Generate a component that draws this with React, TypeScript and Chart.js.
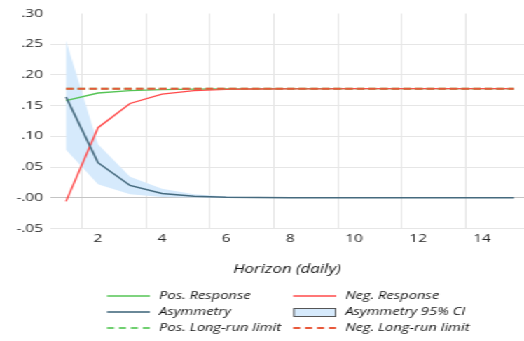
import React, { useEffect, useRef } from 'react';
import { Chart, registerables } from 'chart.js';

Chart.register(...registerables);

// ---- data ----
const horizons = [1, 2, 3, 4, 5, 6, 7, 8, 9, 10, 11, 12, 13, 14, 15];
const posResponse = [0.158, 0.1705, 0.1745, 0.176, 0.1768, 0.1772, 0.1774, 0.1775, 0.1775, 0.1775, 0.1775, 0.1775, 0.1775, 0.1775, 0.1775];
const negResponse = [-0.006, 0.114, 0.1535, 0.1688, 0.1743, 0.1763, 0.177, 0.1773, 0.1774, 0.1775, 0.1775, 0.1775, 0.1775, 0.1775, 0.1775];
const asymmetry = [0.164, 0.057, 0.02, 0.0068, 0.0022, 0.0007, 0.0002, 0.0001, 0, 0, 0, 0, 0, 0, 0];
const ciUpper = [0.256, 0.087, 0.034, 0.0145, 0.0055, 0.002, 0.0008, 0.0003, 0.0001, 0, 0, 0, 0, 0, 0];
const ciLower = [0.078, 0.022, 0.0055, 0.0012, 0.0002, 0, 0, 0, 0, 0, 0, 0, 0, 0, 0];
const posLongRun = 0.1775;
const negLongRun = 0.1775;
const xTickLabels = [2, 4, 6, 8, 10, 12, 14];
const xGridPositions = [1.5, 3.5, 5.5, 7.5, 9.5, 11.5, 13.5];
const yMin = -0.05;
const yMax = 0.3;
const yStep = 0.05;
const xTitle = 'Horizon (daily)';
const legendLabels = [
  'Pos. Response',
  'Neg. Response',
  'Asymmetry',
  'Asymmetry 95% CI',
  'Pos. Long-run limit',
  'Neg. Long-run limit',
];

// ---- styles ----
const STRETCH = 1.4;
const W = Math.round(524 / STRETCH);
const H = 341;
const C_POS = '#55c455';
const C_NEG = '#ff4a4a';
const C_ASYM = '#456a7e';
const C_CI = '#d6eafc';
const C_POS_LR = '#6fcf6f';
const C_NEG_LR = '#e8583a';
const C_TEXT = '#141414';
const FONT = '"Open Sans", "DejaVu Sans", sans-serif';
const DASH = [5.5, 2.8];

const pts = (ys: number[]) => horizons.map((h, i) => ({ x: h, y: ys[i] }));
const flat = (v: number) => horizons.map((h) => ({ x: h, y: v }));

const legendPlugin = {
  id: 'customLegend',
  afterDraw(chart: any) {
    const ctx = chart.ctx as CanvasRenderingContext2D;
    const cols = [
      { s0: 76.4, s1: 107, t: 113.6 },
      { s0: 209.3, s1: 240, t: 246.4 },
    ];
    const rows = [296, 312, 328];
    const styles = [
      { kind: 'line', color: C_POS, dash: [] as number[], w: 1.5 },
      { kind: 'line', color: C_NEG, dash: [], w: 1.5 },
      { kind: 'line', color: C_ASYM, dash: [], w: 1.6 },
      { kind: 'box', color: C_CI, dash: [], w: 1 },
      { kind: 'line', color: C_POS_LR, dash: [5, 3.5], w: 2 },
      { kind: 'line', color: C_NEG_LR, dash: [5, 3.5], w: 2 },
    ];
    ctx.save();
    legendLabels.forEach((label, i) => {
      const col = cols[i % 2];
      const y = rows[Math.floor(i / 2)];
      const st = styles[i];
      if (st.kind === 'line') {
        ctx.beginPath();
        ctx.setLineDash(st.dash);
        ctx.strokeStyle = st.color;
        ctx.lineWidth = st.w;
        ctx.moveTo(col.s0, y);
        ctx.lineTo(col.s1, y);
        ctx.stroke();
        ctx.setLineDash([]);
      } else {
        ctx.fillStyle = st.color;
        ctx.fillRect(col.s0, y - 4, col.s1 - col.s0, 8);
        ctx.strokeStyle = '#555';
        ctx.lineWidth = 1;
        ctx.strokeRect(col.s0 + 0.5, y - 4 + 0.5, col.s1 - col.s0 - 1, 8);
      }
      ctx.fillStyle = C_TEXT;
      ctx.font = `italic 10.5px ${FONT}`;
      ctx.textBaseline = 'middle';
      ctx.textAlign = 'left';
      ctx.fillText(label, col.t, y);
    });
    ctx.restore();
  },
};

export default function App() {
  const ref = useRef<HTMLCanvasElement | null>(null);
  useEffect(() => {
    if (!ref.current) return;
    const chart = new Chart(ref.current, {
      type: 'line',
      data: {
        datasets: [
          { label: legendLabels[5], data: flat(negLongRun), borderColor: C_NEG_LR, borderWidth: 2, borderDash: DASH, pointRadius: 0, fill: false },
          { label: legendLabels[4], data: flat(posLongRun), borderColor: C_POS_LR, borderWidth: 2, borderDash: DASH, pointRadius: 0, fill: false },
          { label: legendLabels[2], data: pts(asymmetry), borderColor: C_ASYM, borderWidth: 1.5, pointRadius: 0, fill: false },
          { label: legendLabels[1], data: pts(negResponse), borderColor: C_NEG, borderWidth: 1.3, pointRadius: 0, fill: false },
          { label: legendLabels[0], data: pts(posResponse), borderColor: C_POS, borderWidth: 1.3, pointRadius: 0, fill: false },
          { label: legendLabels[3], data: pts(ciUpper), borderColor: 'rgba(0,0,0,0)', borderWidth: 0, backgroundColor: C_CI, pointRadius: 0, fill: '+1' },
          { label: 'ci-lower', data: pts(ciLower), borderColor: 'rgba(0,0,0,0)', borderWidth: 0, pointRadius: 0, fill: false },
        ],
      },
      options: {
        animation: false,
        responsive: false,
        devicePixelRatio: 1,
        layout: { padding: { top: 13.5, right: 0, bottom: 60, left: 0 } },
        plugins: { legend: { display: false }, tooltip: { enabled: false } },
        scales: {
          x: {
            type: 'linear',
            min: 0.5,
            max: 15.31,
            afterBuildTicks: (scale: any) => {
              const vals = [...xTickLabels, ...xGridPositions].sort((a, b) => a - b);
              scale.ticks = vals.map((v) => ({ value: v }));
            },
            ticks: {
              autoSkip: false,
              maxRotation: 0,
              padding: 4,
              color: '#262626',
              font: { family: FONT, size: 11 },
              callback: (v: any) => (Number.isInteger(v) ? String(v) : ''),
            },
            grid: {
              drawTicks: false,
              color: (c: any) => (c.tick && !Number.isInteger(c.tick.value) ? '#e6e6e6' : 'rgba(0,0,0,0)'),
            },
            border: { display: false },
            title: {
              display: true,
              text: xTitle,
              color: C_TEXT,
              font: { family: FONT, size: 12, style: 'italic' },
              padding: { top: 13, bottom: 4 },
            },
          },
          y: {
            type: 'linear',
            min: yMin,
            max: yMax,
            afterFit: (scale: any) => {
              scale.width = 35.7;
            },
            ticks: {
              stepSize: yStep,
              padding: 5,
              color: '#262626',
              font: { family: FONT, size: 11 },
              callback: (v: any) => Number(v).toFixed(2).replace('0.', '.'),
            },
            grid: {
              drawTicks: false,
              color: (c: any) => {
                const v = c.tick ? c.tick.value : 1;
                if (Math.abs(v) < 1e-9) return '#c4c4c4';
                if (v > yMax - 1e-6) return 'rgba(0,0,0,0)';
                return '#e6e6e6';
              },
            },
            border: { display: false },
          },
        },
      },
      plugins: [legendPlugin],
    });
    return () => chart.destroy();
  }, []);

  return (
    <div
      style={{
        position: 'absolute',
        left: 0,
        top: 0,
        width: W,
        height: H,
        transform: `scaleX(${524 / W})`,
        transformOrigin: '0 0',
        background: '#fff',
      }}
    >
      <canvas ref={ref} width={W} height={H} />
    </div>
  );
}
